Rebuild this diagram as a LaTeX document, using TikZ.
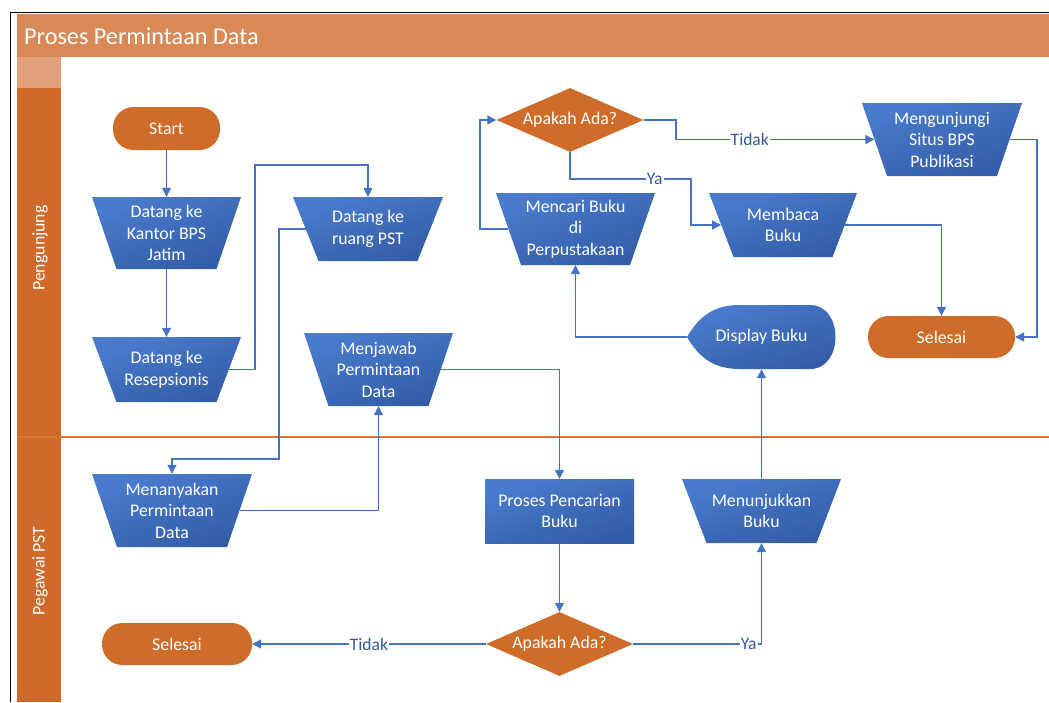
\documentclass[tikz,border=0pt]{standalone}
\usepackage{fontspec}
\setmainfont{Carlito}
\usetikzlibrary{shapes.geometric,arrows.meta,calc}
\definecolor{hdr}{RGB}{217,137,86}
\definecolor{cornerc}{RGB}{224,160,122}
\definecolor{lanec}{RGB}{208,106,42}
\definecolor{orng}{RGB}{208,108,42}
\definecolor{blueL}{RGB}{74,124,206}
\definecolor{blueD}{RGB}{50,92,166}
\definecolor{conncol}{RGB}{68,114,196}
\definecolor{lblcol}{RGB}{52,88,160}
\definecolor{lanediv}{RGB}{225,115,50}
\tikzset{
  txt/.style={text=white, align=center, font=\fontsize{17.8}{21.5}\selectfont, inner sep=0pt},
  bluefill/.style={top color=blueL, bottom color=blueD, shading angle=20},
  term/.style={txt, rectangle, fill=orng, rounded corners=20.5pt, minimum width=#1, minimum height=42},
  decide/.style={txt, diamond, fill=orng, aspect=2.3, minimum width=147, minimum height=64},
  procbox/.style={txt, rectangle, bluefill, minimum width=149, minimum height=64},
  flow/.style={draw=conncol, line width=1.2pt, -{Triangle[length=9pt,width=9pt]}},
  lbl/.style={fill=white, text=lblcol, font=\fontsize{17.5}{20}\selectfont, inner sep=1pt},
}
\newcommand{\manop}[7]{%
  \shade[bluefill] ({#2-(#4)/2},{#3-(#6)/2}) -- ({#2+(#4)/2},{#3-(#6)/2}) -- ({#2+(#5)/2},{#3+(#6)/2}) -- ({#2-(#5)/2},{#3+(#6)/2}) -- cycle;
  \node[txt, minimum width={((#4)+(#5))/2}, minimum height=#6] (#1) at (#2,#3) {#7};
}
\begin{document}
\begin{tikzpicture}[x=1pt,y=-1pt]
\useasboundingbox (0,0) rectangle (1049,702);
\fill[white] (0,0) rectangle (1049,702);
% frame and swimlanes
\fill[hdr] (17,14) rectangle (1049,57);
\fill[cornerc] (17,57) rectangle (60.5,88);
\fill[lanec] (17,88) rectangle (60.5,702);
\draw[black, line width=1.5pt] (10.5,702) -- (10.5,12.5) -- (1049,12.5);
\draw[lanediv, line width=1.3pt] (17,437) -- (1049,437);
\node[anchor=west, text=white, font=\fontsize{24.2}{28}\selectfont, inner sep=0pt] (title) at (24,36) {Proses Permintaan Data};
\node[txt, rotate=90] (lane1) at (40,248) {Pengunjung};
\node[txt, rotate=90] (lane2) at (40,571) {Pegawai PST};

% nodes
\node[term=107, minimum height=43] (start) at (166.5,128.5) {Start};
\manop{kantor}{166.5}{233}{149}{100}{72}{Datang ke\\Kantor BPS\\Jatim}
\manop{resep}{166.5}{369.5}{149}{100}{65}{Datang ke\\Resepsionis}
\manop{pst}{368}{229}{150}{99}{64}{Datang ke\\ruang PST}
\manop{jawab}{378.5}{369.5}{149}{100}{73}{Menjawab\\Permintaan\\Data}
\manop{tanya}{172}{510.5}{160}{110}{73}{Menanyakan\\Permintaan\\Data}
\manop{visit}{942}{139.5}{160}{110}{73}{Mengunjungi\\Situs BPS\\Publikasi}
\manop{cari}{575.5}{229}{159}{109}{72}{Mencari Buku\\di\\Perpustakaan}
\manop{baca}{783}{225}{148}{99}{64}{Membaca\\Buku}
\manop{tunjuk}{761.5}{511}{159}{110}{64}{Menunjukkan\\Buku}
\node[decide] (dia1) at (570,120) {Apakah Ada?};
\node[decide] (dia2) at (559.5,644) {Apakah Ada?};
\node[procbox] (proses) at (559.5,511) {Proses Pencarian\\Buku};
\node[term=147] (sel1) at (941.5,337) {Selesai};
\node[term=150] (sel2) at (177,644) {Selesai};
% display shape
\shade[bluefill] (687,337) .. controls (700,315) and (715,305) .. (740,305) -- (810,305)
  .. controls (844,305) and (844,369) .. (810,369) -- (740,369)
  .. controls (715,369) and (700,359) .. cycle;
\node[txt, minimum width=149, minimum height=64] (disp) at (761.5,337) {Display Buku};

% connectors
\draw[flow] (start.south) -- (kantor.north);
\draw[flow] (kantor.south) -- (resep.north);
\draw[flow] (resep.east) -| (255,165) -| (pst.north);
\draw[flow] (pst.west) -| (279,459) -| (tanya.north);
\draw[flow] (tanya.east) -| (jawab.south);
\draw[flow] (jawab.east) -| (proses.north);
\draw[flow] (proses.south) -- (dia2.north);
\draw[flow] (dia2.west) -- node[lbl, midway] {Tidak} (sel2.east);
\draw[flow] (dia2.east) -| node[lbl, pos=0.45] {Ya} (tunjuk.south);
\draw[flow] (tunjuk.north) -- (disp.south);
\draw[flow] (disp.west) -| (cari.south);
\draw[flow] (cari.west) -| (480,120) -- (dia1.west);
\draw[flow] (dia1.east) -- (676,120) |- node[lbl, pos=0.686] {Tidak} (visit.west);
\draw[flow] (dia1.south) |- node[lbl, pos=0.85] {Ya} (691,179) |- (baca.west);
\draw[flow] (baca.east) -| (sel1.north);
\draw[flow] (visit.east) -| (1037,337) -- (sel1.east);
\end{tikzpicture}
\end{document}
